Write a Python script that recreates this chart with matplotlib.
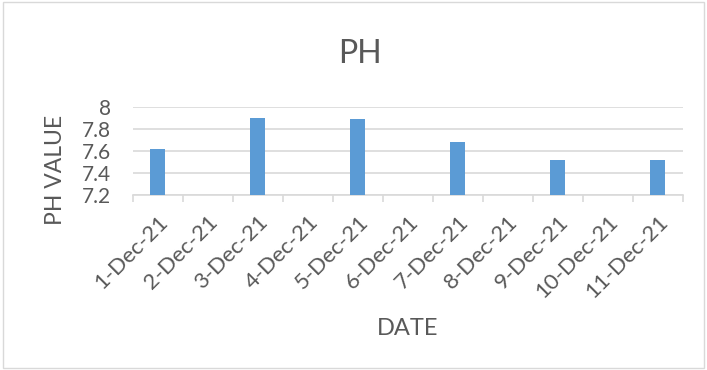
import numpy as np
import matplotlib.pyplot as plt

dates = ["1-Dec-21", "2-Dec-21", "3-Dec-21", "4-Dec-21", "5-Dec-21", "6-Dec-21",
         "7-Dec-21", "8-Dec-21", "9-Dec-21", "10-Dec-21", "11-Dec-21"]
ph = [7.62, np.nan, 7.90, np.nan, 7.89, np.nan, 7.68, np.nan, 7.52, np.nan, 7.52]

plt.rcParams['font.family'] = ['Lato', 'DejaVu Sans']
grey = "#595959"

fig = plt.figure(figsize=(7.07, 3.7), dpi=100)
ax = fig.add_axes([0.188, 0.473, 0.778, 0.238])

x = np.arange(len(dates))
ax.bar(x, ph, width=0.3, color="#5B9BD5", zorder=3)

ax.set_ylim(7.2, 8.0)
ax.set_yticks([7.2, 7.4, 7.6, 7.8, 8.0])
ax.set_yticklabels(["7.2", "7.4", "7.6", "7.8", "8"])
ax.set_xlim(-0.5, len(dates) - 0.5)
ax.yaxis.grid(True, color="#D9D9D9", linewidth=1.2)
ax.set_axisbelow(True)

ax.set_xticks(x)
ax.set_xticklabels(dates, rotation=45, ha="right", rotation_mode="anchor")
ax.set_xticks(np.arange(-0.5, len(dates)), minor=True)
ax.tick_params(axis="x", which="major", length=0, pad=12, labelsize=16, labelcolor=grey)
ax.tick_params(axis="x", which="minor", length=5, color="#D9D9D9", width=1.2)
ax.tick_params(axis="y", length=0, labelsize=15, labelcolor=grey, pad=16)

for s in ["top", "right", "left"]:
    ax.spines[s].set_visible(False)
ax.spines["bottom"].set_color("#D9D9D9")
ax.spines["bottom"].set_linewidth(1.2)

fig.text(0.078, 0.54, "PH VALUE", fontsize=16.5, color=grey, rotation=90,
         ha="center", va="center")
fig.text(0.576, 0.095, "DATE", fontsize=17, color=grey, ha="center")
fig.text(0.509, 0.83, "PH", fontsize=23, color=grey, ha="center")

# thin border round the chart area
fig.patches.append(plt.Rectangle((0.004, 0.005), 0.992, 0.99, transform=fig.transFigure,
                                 fill=False, edgecolor="#D9D9D9", linewidth=1))

fig.savefig("out.png", dpi=100)
